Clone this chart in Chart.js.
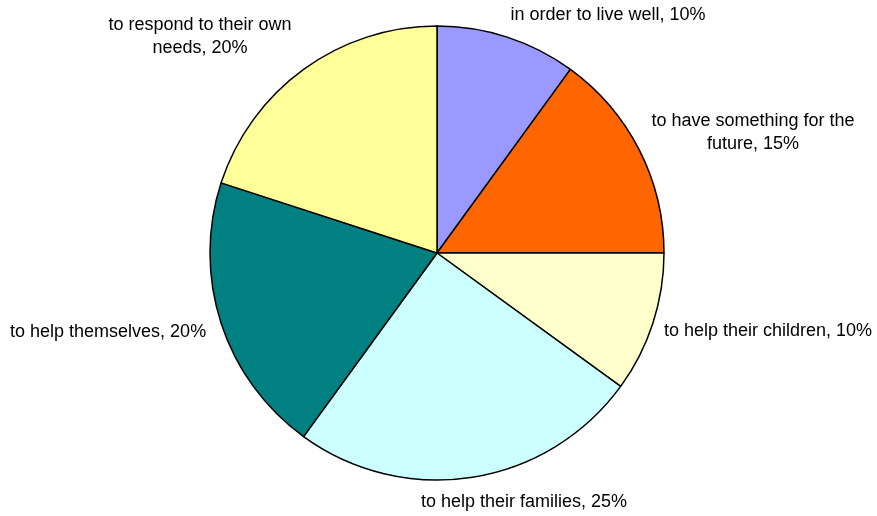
<!DOCTYPE html>
<html>
<head>
<meta charset="utf-8">
<script src="https://cdn.jsdelivr.net/npm/chart.js@4/dist/chart.umd.min.js"></script>
<style>
  html, body { margin: 0; padding: 0; background: #fff; }
  #wrap { width: 877px; height: 516px; }
</style>
</head>
<body>
<div id="wrap"><canvas id="pie" width="877" height="516"></canvas></div>
<script>
// reasons and their shares (%), clockwise from 12 o'clock
const reasons = [
  ['in order to live well'],
  ['to have something for the', 'future'],
  ['to help their children'],
  ['to help their families'],
  ['to help themselves'],
  ['to respond to their own', 'needs']
];
const shares = [10, 15, 10, 25, 20, 20];
const sliceColors = ['#9999FF', '#FF6600', '#FFFFCC', '#CCFFFF', '#008080', '#FFFF99'];

// where each label block sits, relative to pie centre, in radius units
const labelSpots = [
  [0.753, -1.048],
  [1.392, -0.529],
  [1.458, 0.344],
  [0.383, 1.097],
  [-1.449, 0.348],
  [-1.044, -0.952]
];

// draws "name, NN%" next to each slice
const sliceLabels = {
  id: 'sliceLabels',
  afterDatasetsDraw(chart) {
    const ctx = chart.ctx;
    const arcs = chart.getDatasetMeta(0).data;
    const vals = chart.data.datasets[0].data;
    const lineH = 23;
    ctx.save();
    ctx.font = '18px "Liberation Sans", Arial, sans-serif';
    ctx.fillStyle = '#000';
    ctx.textAlign = 'center';
    ctx.textBaseline = 'middle';
    arcs.forEach((arc, i) => {
      const lines = chart.data.labels[i].slice();
      lines[lines.length - 1] += ', ' + vals[i] + '%';
      const x = arc.x + labelSpots[i][0] * arc.outerRadius;
      const y = arc.y + labelSpots[i][1] * arc.outerRadius;
      const top = y - (lines.length - 1) * lineH / 2;
      lines.forEach((ln, j) => ctx.fillText(ln, x, top + j * lineH));
    });
    ctx.restore();
  }
};

new Chart(document.getElementById('pie'), {
  type: 'pie',
  data: {
    labels: reasons,
    datasets: [{
      data: shares,
      backgroundColor: sliceColors,
      borderColor: '#000',
      borderWidth: 1.5,
      radius: 227
    }]
  },
  options: {
    responsive: false,
    animation: false,
    layout: { padding: { left: 0, right: 3, top: 0, bottom: 10 } },
    plugins: {
      legend: { display: false },
      tooltip: { enabled: false }
    }
  },
  plugins: [sliceLabels]
});
</script>
</body>
</html>
